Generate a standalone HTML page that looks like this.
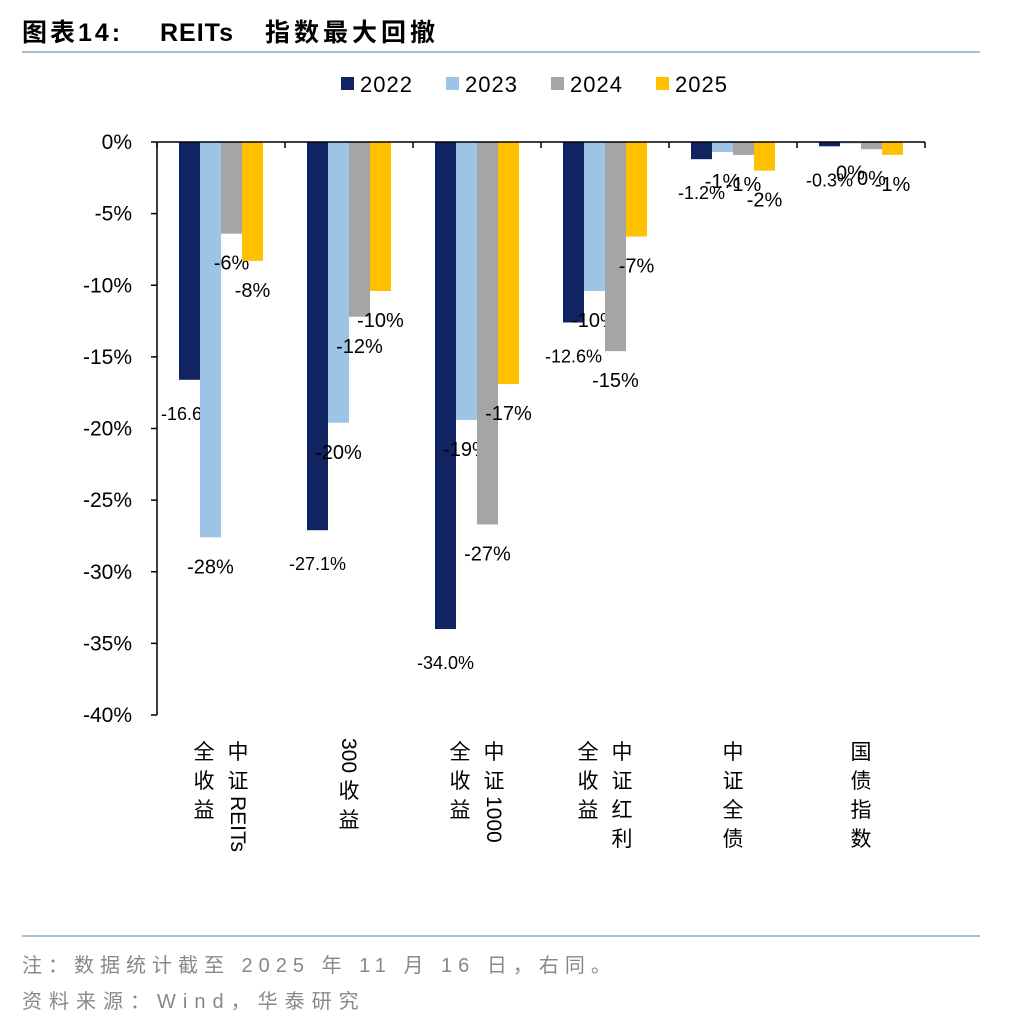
<!DOCTYPE html>
<html><head><meta charset="utf-8">
<style>
body{margin:0;background:#fff;width:1012px;height:1024px;overflow:hidden;font-family:"Liberation Sans","Noto Sans CJK SC",sans-serif;}
</style></head>
<body>
<svg width="1012" height="1024" xmlns="http://www.w3.org/2000/svg" font-family="Liberation Sans, Noto Sans CJK SC, sans-serif">
<text x="22" y="41" font-size="25" font-weight="bold" fill="#000"><tspan letter-spacing="3">图表14:</tspan><tspan x="160" letter-spacing="1">REITs</tspan><tspan x="265" letter-spacing="4">指数最大回撤</tspan></text>
<line x1="22" y1="52" x2="980" y2="52" stroke="#a9bdd0" stroke-width="2"/>
<line x1="22" y1="936" x2="980" y2="936" stroke="#a9bdd0" stroke-width="2"/>
<text x="22" y="972" font-size="20" fill="#888" letter-spacing="6">注：数据统计截至 2025 年 11 月 16 日，右同。</text>
<text x="22" y="1008" font-size="20" fill="#888" letter-spacing="7">资料来源：Wind，华泰研究</text>
<g id="legend"></g>
<g id="plot"></g>
</svg>
<script>
const categories=[["中证REITs","全收益"],["300收益"],["中证1000","全收益"],["中证红利","全收益"],["中证全债"],["国债指数"]];
const seriesNames=["2022","2023","2024","2025"];
const s2022=[-16.6,-27.1,-34.0,-12.6,-1.2,-0.3];
const s2023=[-27.6,-19.6,-19.4,-10.4,-0.7,-0.1];
const s2024=[-6.4,-12.2,-26.7,-14.6,-0.9,-0.5];
const s2025=[-8.3,-10.4,-16.9,-6.6,-2.0,-0.9];
const yTicks=[0,-5,-10,-15,-20,-25,-30,-35,-40];
const colors=["#0f2461","#9dc3e6","#a5a5a5","#ffc000"];
const series=[s2022,s2023,s2024,s2025];
const NS="http://www.w3.org/2000/svg";
const x0=157,x1=925,y0=142,y1=715;
const ys=v=>y0+(0-v)/40*(y1-y0);
const gw=(x1-x0)/categories.length, bw=21;
const plot=document.getElementById('plot');
function mk(tag,attrs,parent){const e=document.createElementNS(NS,tag);for(const k in attrs)e.setAttribute(k,attrs[k]);parent.appendChild(e);return e;}
series.forEach((s,si)=>{s.forEach((v,ci)=>{
 const bx=x0+gw*ci+gw/2-2*bw+si*bw;
 const r=mk('rect',{x:bx,y:y0,width:bw,height:ys(v)-y0,fill:colors[si]},plot);
 
 
 const lbl=si===0?v.toFixed(1)+'%':Math.round(v)+'%';
 const t=mk('text',{x:bx+bw/2,y:ys(v)+(si===0?40:36),'font-size':si===0?18:20,'text-anchor':'middle',fill:'#000'},plot);
 t.textContent=lbl;
 
 
});});
const ya=mk('line',{x1:x0,y1:y0,x2:x0,y2:y1,stroke:'#000','stroke-width':1.5},plot);


yTicks.forEach(v=>{
 mk('line',{x1:x0-6,y1:ys(v),x2:x0,y2:ys(v),stroke:'#000','stroke-width':1.5},plot);
 const t=mk('text',{x:132,y:ys(v)+7,'font-size':21,'text-anchor':'end',fill:'#000'},plot);
 t.textContent=v+'%';
 
 
});
const xa=mk('line',{x1:x0,y1:y0,x2:x1,y2:y0,stroke:'#000','stroke-width':1.5},plot);


for(let i=0;i<=categories.length;i++)mk('line',{x1:x0+gw*i,y1:y0,x2:x0+gw*i,y2:y0+6,stroke:'#000','stroke-width':1.5},plot);
categories.forEach((c,ci)=>{
 const cx=x0+gw*ci+gw/2;
 const n=c.length;
 c.forEach((col,k)=>{
  const colX=cx+(n===1?0:(k===0?17:-17));
  const segs=col.match(/[A-Za-z0-9]+|[^A-Za-z0-9]/g);
  let y=738;
  segs.forEach(sg=>{
   if(/^[A-Za-z0-9]+$/.test(sg)){
    const t=mk('text',{x:0,y:0,'font-size':21,fill:'#000',transform:'translate('+(colX-7)+','+y+') rotate(90)'},plot);
    t.textContent=sg;
    
    
    y+=t.getComputedTextLength()+4;
   } else {
    const t=mk('text',{x:colX,y:y+21,'font-size':21,'text-anchor':'middle',fill:'#000'},plot);
    t.textContent=sg;
    
    
    y+=29;
   }
  });
 });
});
const lg=document.getElementById('legend');
const lx=[341,446,551,656];
seriesNames.forEach((n,i)=>{
 const r=mk('rect',{x:lx[i],y:77,width:13,height:13,fill:colors[i]},lg);
 
 
 const t=mk('text',{x:lx[i]+19,y:92,'font-size':22,fill:'#000','letter-spacing':'1'},lg);
 t.textContent=n;
 
 
});
</script>
</body></html>
